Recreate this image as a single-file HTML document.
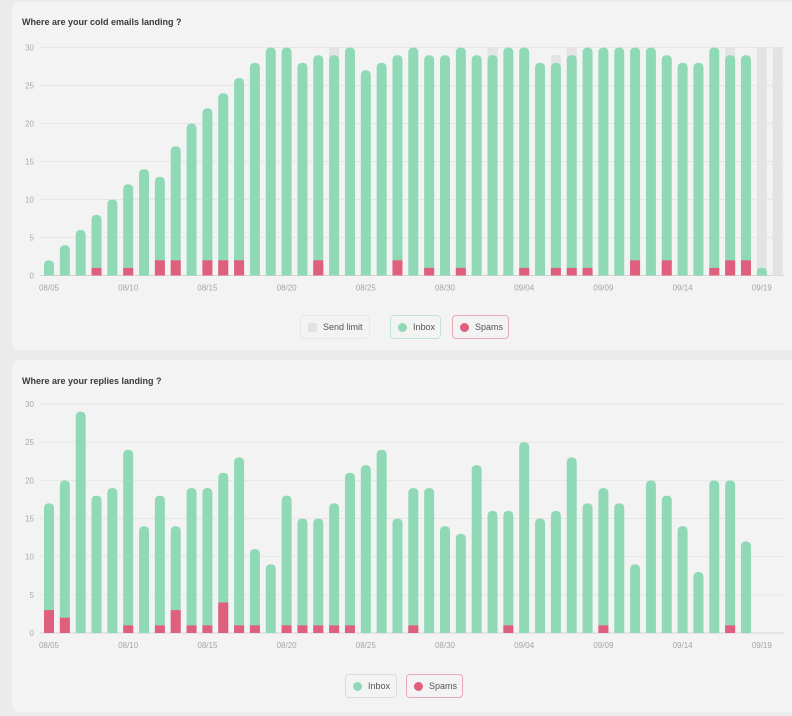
<!DOCTYPE html>
<html><head><meta charset="utf-8"><style>
body{margin:0;width:792px;height:716px;background:#ebebeb;font-family:"Liberation Sans",sans-serif;overflow:hidden;position:relative}
.card{position:absolute;left:12px;width:784px;background:#f3f3f3;border-radius:6px}
.title{position:absolute;left:10px;font-size:9px;font-weight:bold;color:#3a3a3a}
.leg{position:absolute;height:24px;border-radius:4px;font-size:9px;color:#555;display:flex;align-items:center;box-sizing:border-box;padding:0 7px;gap:6px;white-space:nowrap}
.dot{width:9px;height:9px;border-radius:50%;flex-shrink:0}
svg{position:absolute;left:0;top:0}
</style></head><body>
<div class="card" style="top:2px;height:348px">
  <div class="title" style="top:15px">Where are your cold emails landing ?</div>
</div>
<div class="card" style="top:360px;height:352px">
  <div class="title" style="top:16px">Where are your replies landing ?</div>
</div>
<svg id="c1" width="792" height="716"></svg>
<div class="leg" style="left:300px;top:315px;width:70px;border:1px solid #e8e8e8"><span class="dot" style="background:#e2e2e2;border-radius:2px"></span>Send limit</div>
<div class="leg" style="left:390px;top:315px;width:51px;border:1px solid #bfe6d3"><span class="dot" style="background:#8fd9b6"></span>Inbox</div>
<div class="leg" style="left:452px;top:315px;width:57px;border:1px solid #e9a9b8"><span class="dot" style="background:#e05f7d"></span>Spams</div>
<div class="leg" style="left:345px;top:674px;width:52px;border:1px solid #dcdcdc"><span class="dot" style="background:#8fd9b6"></span>Inbox</div>
<div class="leg" style="left:406px;top:674px;width:57px;border:1px solid #e9a9b8"><span class="dot" style="background:#e05f7d"></span>Spams</div>
<script>
const dates = ["08/05","08/10","08/15","08/20","08/25","08/30","09/04","09/09","09/14","09/19"];
const yTicks = [0,5,10,15,20,25,30];
const emailTotal = [2,4,6,8,10,12,14,13,17,20,22,24,26,28,30,30,28,29,29,30,27,28,29,30,29,29,30,29,29,30,30,28,28,29,30,30,30,30,30,29,28,28,30,29,29,1,0];
const emailSpam = [0,0,0,1,0,1,0,2,2,0,2,2,2,0,0,0,0,2,0,0,0,0,2,0,1,0,1,0,0,0,1,0,1,1,1,0,0,2,0,2,0,0,1,2,2,0,0];
const emailLimit = [2,4,6,8,10,12,14,13,17,20,22,24,26,28,30,30,28,29,30,30,27,28,29,30,29,29,30,29,30,30,30,28,29,30,30,30,30,30,30,29,28,28,30,30,29,30,30];
const replyTotal = [17,20,29,18,19,24,14,18,14,19,19,21,23,11,9,18,15,15,17,21,22,24,15,19,19,14,13,22,16,16,25,15,16,23,17,19,17,9,20,18,14,8,20,20,12];
const replySpam = [3,2,0,0,0,1,0,1,3,1,1,4,1,1,0,1,1,1,1,1,0,0,0,1,0,0,0,0,0,1,0,0,0,0,0,1,0,0,0,0,0,0,0,1,0];
const NS="http://www.w3.org/2000/svg";
const svg=document.getElementById('c1');
function el(t,a){const e=document.createElementNS(NS,t);for(const k in a)e.setAttribute(k,a[k]);svg.appendChild(e);return e;}
function topBar(x,y0,y1,w,r){r=Math.min(r,(y0-y1)/2,w/2);return `M${x},${y0}V${y1+r}Q${x},${y1} ${x+r},${y1}H${x+w-r}Q${x+w},${y1} ${x+w},${y1+r}V${y0}Z`;}
function chart(name,y0px,y30px,total,spam,limit){
  const ys=v=>y0px-(y0px-y30px)*v/30;
  const xs=i=>49+i*15.84;
  yTicks.forEach(t=>{
    const g=el('line',{x1:40,x2:784,y1:ys(t),y2:ys(t),stroke:t?'#e6e6e6':'#d4d4d4','stroke-width':1});
    
    
    const tx=el('text',{x:34,y:ys(t)+3,'text-anchor':'end','font-size':8,fill:'#aaa','font-family':'Liberation Sans'});
    tx.textContent=t;
    
    
  });
  dates.forEach((d,k)=>{
    const tx=el('text',{x:xs(k*5),y:y0px+15,'text-anchor':'middle','font-size':8,fill:'#a5a5a5','font-family':'Liberation Sans'});
    tx.textContent=d;
    
    
  });
  const w=10;
  total.forEach((v,i)=>{
    const x=xs(i)-w/2;
    if(limit&&limit[i]>v){
      const p=el('path',{d:topBar(x,y0px,ys(limit[i]),w,v>0?0:4),fill:'#e3e3e3'});
      
      
    }
    if(v>0){
      const p=el('path',{d:topBar(x,y0px,ys(v),w,5),fill:'#8fd9b6'});
      
      
    }
    if(spam[i]>0){
      const r=el('rect',{x:x,y:ys(spam[i]),width:w,height:y0px-ys(spam[i]),fill:'#e05f7d'});
      
      
    }
  });
}
chart('cold-emails',275.5,47.5,emailTotal,emailSpam,emailLimit);
chart('replies',633,404,replyTotal,replySpam,null);
</script>
</body></html>
